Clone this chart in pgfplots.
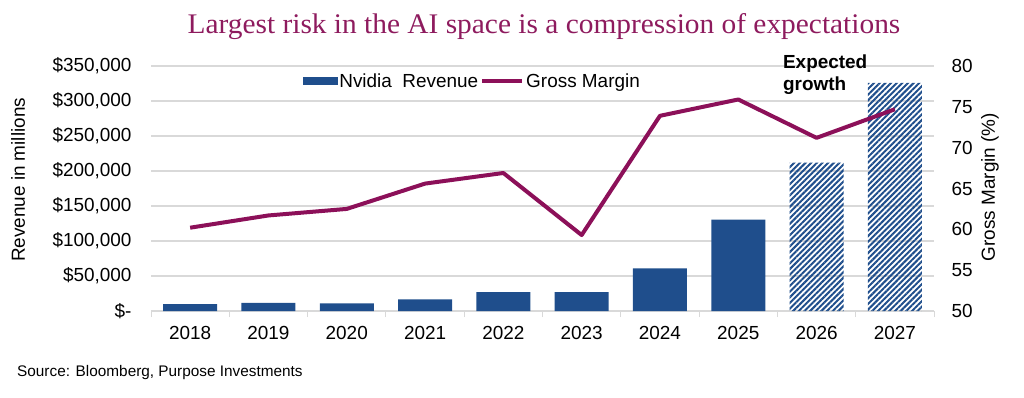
\documentclass[border=0pt]{standalone}
\usepackage{fontspec}
\setmainfont{Liberation Sans}
\newfontfamily\titlefont{Liberation Serif}
\usepackage{pgfplots}
\usepackage{pgfplotstable}
\pgfplotsset{compat=1.18}
\usetikzlibrary{patterns,patterns.meta}
\definecolor{barblue}{HTML}{1F4E8C}
\definecolor{gmline}{HTML}{8C1059}
\definecolor{titlecol}{HTML}{8E1B5E}
\definecolor{gridgray}{HTML}{D9D9D9}

\pgfplotstableread{
x rev
0 9714
1 11716
2 10918
3 16675
4 26914
5 26974
6 60922
7 130497
}\revactual
\pgfplotstableread{
x rev
8 212000
9 326000
}\revexp
\pgfplotstableread{
x gm
0 60.2
1 61.7
2 62.5
3 65.6
4 66.9
5 59.3
6 73.9
7 75.9
8 71.2
9 74.7
}\gmdata

\begin{document}
\begin{tikzpicture}[x=1bp,y=1bp]
\path[use as bounding box] (0,0) rectangle (1024,397);
\node[font=\titlefont\fontsize{28.5}{32}\selectfont, text=titlecol, inner sep=0pt, xscale=1.035] at (544,370) {Largest risk in the AI space is a compression of expectations};
\node[anchor=west, font=\fontsize{15.4}{18}\selectfont, inner sep=0pt] at (17,24) {Source: Bloomberg, Purpose Investments};

\begin{axis}[
  at={(151bp,86bp)}, anchor=south west, scale only axis,
  width=783bp, height=245bp,
  xmin=-0.5, xmax=9.5, ymin=0, ymax=350000,
  font=\fontsize{19}{22}\selectfont,
  xtick={0,...,9},
  xticklabels={2018,2019,2020,2021,2022,2023,2024,2025,2026,2027},
  minor xtick={-0.5,0.5,...,9.5},
  ytick={0,50000,100000,150000,200000,250000,300000,350000},
  yticklabels={\$-,\$50{,}000,\$100{,}000,\$150{,}000,\$200{,}000,\$250{,}000,\$300{,}000,\$350{,}000},
  scaled y ticks=false,
  major tick length=0pt, minor tick length=6bp, tick align=outside,
  tick style={gridgray, line width=1bp},
  axis x line*=bottom, axis y line*=left,
  x axis line style={gridgray, line width=1.2bp, -},
  y axis line style={draw=none},
  ymajorgrids, major grid style={gridgray, line width=1.2bp},
  ylabel={Revenue in millions},
  every axis y label/.style={at={(rel axis cs:0,0.535)}, xshift=-133bp, rotate=90, anchor=center},
  yticklabel style={anchor=east, xshift=-16bp},
  xticklabel style={anchor=north, yshift=-12bp},
  clip=false,
]
\addplot[ybar, bar width=54bp, bar shift=0pt, fill=barblue, draw=none] table[x=x,y=rev]{\revactual};
\addplot[ybar, bar width=54bp, bar shift=0pt, draw=none, pattern={Lines[angle=45,distance=4bp,line width=2bp]}, pattern color=barblue] table[x=x,y=rev]{\revexp};
\node[anchor=north west, align=left, inner sep=0pt, font=\bfseries\fontsize{19}{21.5}\selectfont] at (rel axis cs:0.807,1.045) {Expected\\growth};
\end{axis}

\begin{axis}[
  at={(151bp,86bp)}, anchor=south west, scale only axis,
  width=783bp, height=245bp,
  xmin=-0.5, xmax=9.5, ymin=50, ymax=80,
  font=\fontsize{19}{22}\selectfont,
  axis x line=none, axis y line*=right,
  y axis line style={draw=none},
  ytick={50,55,60,65,70,75,80},
  yticklabels={50,55,60,65,70,75,80},
  major tick length=0pt,
  yticklabel style={anchor=west, xshift=14bp},
  ylabel={Gross Margin (\%)},
  every axis y label/.style={at={(rel axis cs:1,0.506)}, xshift=56bp, rotate=90, anchor=center},
  legend columns=2,
  legend style={draw=none, fill=none, at={(rel axis cs:0.19,0.939)}, anchor=west, font=\fontsize{19}{22}\selectfont,
    /tikz/every odd column/.append style={column sep=0bp}},
  legend cell align=left,
  clip=false,
]
\addlegendimage{legend image code/.code={\fill[barblue] (0bp,-3.5bp) rectangle (34bp,3.5bp);}}
\addlegendentry{Nvidia\ \ Revenue}
\addplot[gmline, line width=4bp, line join=round, legend image code/.code={\draw[gmline, line width=4bp] (0bp,0bp) -- (40bp,0bp);}] table[x=x,y=gm]{\gmdata};
\addlegendentry{Gross Margin}
\end{axis}
\end{tikzpicture}
\end{document}
